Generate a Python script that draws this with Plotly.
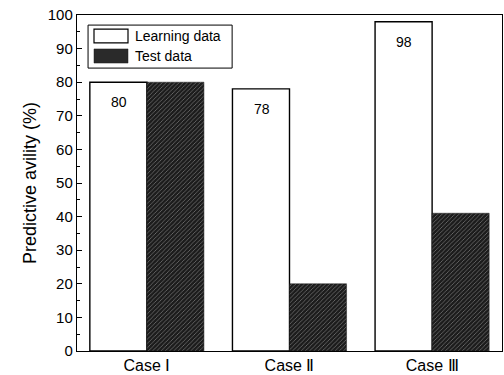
import plotly.graph_objects as go

cases = ["Case \u2160", "Case \u2161", "Case \u2162"]
learning = [80, 78, 98]
test = [80, 20, 41]
y_ticks = [0, 10, 20, 30, 40, 50, 60, 70, 80, 90, 100]
series_names = ["Learning data", "Test data"]

FONT = "Arial, Liberation Sans, sans-serif"
HATCH_BG = "#1c1c1c"

fig = go.Figure()
fig.add_trace(go.Bar(
    x=cases, y=learning, name=series_names[0],
    marker=dict(color="white", line=dict(color="black", width=1.4)),
))
fig.add_trace(go.Bar(
    x=cases, y=test, name=series_names[1],
    marker=dict(
        color=HATCH_BG,
        line=dict(color=HATCH_BG, width=0.5),
        pattern=dict(shape="/", fgcolor="#8c8c8c", bgcolor=HATCH_BG,
                     size=3, solidity=0.2, fillmode="replace"),
    ),
))

# value labels on the learning bars
for c, v in zip(cases, learning):
    fig.add_annotation(x=c, y=v, text=str(v), showarrow=False,
                       xshift=-28, yshift=-20,
                       font=dict(family=FONT, size=14, color="black"))

# legend box drawn in paper coordinates (wide swatches)
shapes = [
    dict(type="rect", xref="paper", yref="paper", x0=0.026, x1=0.365,
         y0=0.842, y1=0.970, line=dict(color="black", width=1),
         fillcolor="white", layer="above"),
    dict(type="rect", xref="paper", yref="paper", x0=0.040, x1=0.120,
         y0=0.917, y1=0.958, line=dict(color="black", width=1.2),
         fillcolor="white", layer="above"),
    dict(type="rect", xref="paper", yref="paper", x0=0.040, x1=0.120,
         y0=0.857, y1=0.899, line=dict(color=HATCH_BG, width=0.5),
         fillcolor="#2a2a2a", layer="above"),
]
for name, yc in zip(series_names, [0.9375, 0.878]):
    fig.add_annotation(xref="paper", yref="paper", x=0.132, y=yc,
                       xanchor="left", yanchor="middle", text=name,
                       showarrow=False,
                       font=dict(family=FONT, size=14, color="black"))

fig.update_layout(
    width=504, height=375,
    margin=dict(l=77, r=2, t=15, b=24),
    paper_bgcolor="white", plot_bgcolor="white",
    barmode="group", bargap=0.2, bargroupgap=0,
    font=dict(family=FONT, size=14, color="black"),
    showlegend=False,
    shapes=shapes,
)
fig.update_xaxes(
    range=[-0.49, 2.49], showline=True, linecolor="black", linewidth=1.4,
    mirror=True, ticks="",
    tickfont=dict(size=16, family=FONT),
    showgrid=False,
)
fig.update_yaxes(
    range=[0, 100], tickvals=y_ticks, showline=True, linecolor="black",
    linewidth=1.4, mirror=True, ticks="inside", ticklen=5, tickcolor="black",
    minor=dict(ticks="inside", ticklen=3, dtick=5, tickcolor="black"),
    showgrid=False, zeroline=False,
    title=dict(text="Predictive avility (%)", font=dict(size=18), standoff=6),
    tickfont=dict(size=15),
)

fig.write_html("out.html")
